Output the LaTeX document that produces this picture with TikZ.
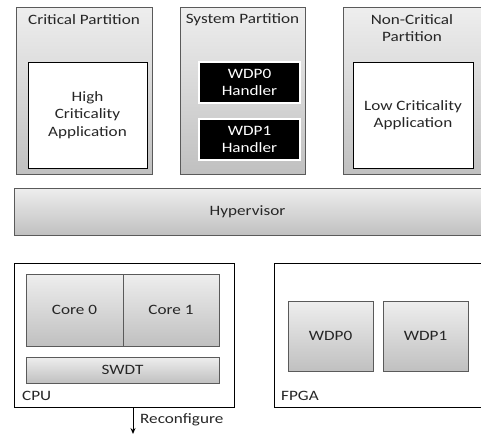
\documentclass[tikz,border=0pt]{standalone}
\usepackage{fontspec}
\setmainfont{Carlito}[FakeStretch=1.2]
\usetikzlibrary{shadows,arrows.meta}
\definecolor{gtop}{HTML}{EEEEEE}
\definecolor{gbot}{HTML}{C0C0C0}
\definecolor{edge}{HTML}{5A5A5A}
\tikzset{
  graybox/.style={draw=edge, line width=0.9pt, top color=gtop, bottom color=gbot,
    drop shadow={shadow xshift=1.2pt, shadow yshift=-1.2pt, opacity=0.35}},
  whitebox/.style={draw=black, line width=1pt, fill=white},
  blackbox/.style={draw=white, line width=1.5pt, fill=black, text=white,
    drop shadow={shadow xshift=1.2pt, shadow yshift=-1.2pt, opacity=0.35}},
  plainbox/.style={draw=black, line width=1pt, fill=white},
  lbl/.style={font=\fontsize{14.3}{17.5}\selectfont, align=center, inner sep=0pt, text=black!85},
}
\begin{document}
\begin{tikzpicture}[x=1pt,y=-1pt]
\useasboundingbox (0,0) rectangle (481,434);
% partitions
\draw[graybox] (16,7) rectangle (152,174);
\draw[graybox] (180,7) rectangle (305,174);
\draw[graybox] (343,7) rectangle (495,174);
\node[lbl] (tcrit) at (84,20) {Critical Partition};
\node[lbl] (tsys) at (242.5,20) {System Partition};
\node[lbl] (tnon) at (412,28) {Non-Critical\\Partition};
\draw[whitebox] (28,62) rectangle (147,168);
\node[lbl] (hc) at (87.5,115) {High\\Criticality\\Application};
\draw[blackbox] (199,62) rectangle (300,103);
\node[lbl,text=white] (w0h) at (249.5,82.5) {WDP0\\Handler};
\draw[blackbox] (199,119) rectangle (300,160);
\node[lbl,text=white] (w1h) at (249.5,139.5) {WDP1\\Handler};
\draw[whitebox] (353,62) rectangle (473,168);
\node[lbl] (lc) at (413,115) {Low Criticality\\Application};
% hypervisor
\draw[graybox] (14,188) rectangle (495,235);
\node[lbl] (hyp) at (247.5,212) {Hypervisor};
% CPU
\draw[plainbox] (14,263) rectangle (234,407);
\coordinate (cpuS) at (133,407);
\draw[graybox] (26,274) rectangle (219,346);
\draw[edge, line width=0.9pt] (123,274) -- (123,346);
\node[lbl] (c0) at (74.5,310) {Core 0};
\node[lbl] (c1) at (171,310) {Core 1};
\draw[graybox] (26,357) rectangle (219,383);
\node[lbl] (swdt) at (122.5,370) {SWDT};
\node[lbl,anchor=west] (cpu) at (22,396) {CPU};
% FPGA
\draw[plainbox] (274,263) rectangle (495,407);
\draw[graybox] (288,301) rectangle (373,371);
\node[lbl] (w0) at (330.5,336) {WDP0};
\draw[graybox] (383,301) rectangle (468,371);
\node[lbl] (w1) at (425.5,336) {WDP1};
\node[lbl,anchor=west] (fpga) at (281,396) {FPGA};
% arrow
\coordinate (arrEnd) at (133,434);
\draw[line width=1pt, -{Stealth[length=6pt,width=5pt]}] (cpuS) -- (arrEnd);
\node[lbl,anchor=west] (reconf) at (140,420) {Reconfigure};
\end{tikzpicture}
\end{document}
